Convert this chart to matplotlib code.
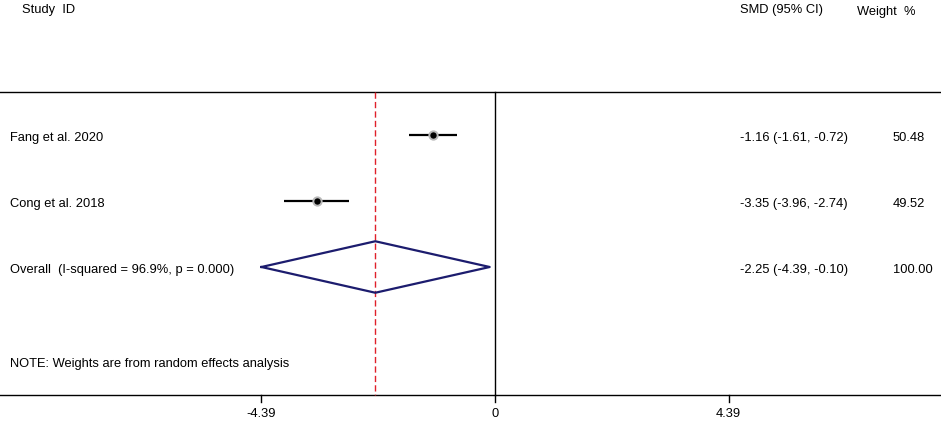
import matplotlib
matplotlib.use("Agg")
import matplotlib.pyplot as plt
import numpy as np

studies = ["Fang et al. 2020", "Cong et al. 2018"]
smd = [-1.16, -3.35]
ci_low = [-1.61, -3.96]
ci_high = [-0.72, -2.74]
weights = [50.48, 49.52]

overall_label = "Overall  (I-squared = 96.9%, p = 0.000)"
overall_smd = -2.25
overall_low = -4.39
overall_high = -0.10
overall_weight = 100.00

xticks = [-4.39, 0, 4.39]
xtick_labels = ["-4.39", "0", "4.39"]

plt.rcParams["font.family"] = ["Liberation Sans", "DejaVu Sans"]
fs = 9.3

fig = plt.figure(figsize=(9.41, 4.23), dpi=100)
ax = fig.add_axes([0, 0, 1, 1])
ax.axis("off")

# pixel-to-data scale: 0 at x=495px, 53.2 px per unit
px_per_unit = 53.2
x0 = 495
ax.set_xlim((0 - x0) / px_per_unit, (941 - x0) / px_per_unit)
# rows: one row = 66 px, row 1 at y=135px
ax.set_ylim((423 - 69) / 66, -69 / 66)

xmin, xmax = ax.get_xlim()
top_y = 0.35
axis_y = 4.94
dy = 0.04  # text sits slightly below the marks

# header
ax.text(xmin + 22 / px_per_unit, -0.89, "Study  ID", fontsize=fs, va="center", ha="left")
ax.text(xmin + 740 / px_per_unit, -0.89, "SMD (95% CI)", fontsize=fs, va="center", ha="left")
ax.text(xmin + 857 / px_per_unit, -0.87, "Weight  %", fontsize=fs, va="center", ha="left")

# frame lines
ax.plot([xmin, xmax], [top_y, top_y], color="black", lw=1)
ax.plot([xmin, xmax], [axis_y, axis_y], color="black", lw=1)
ax.plot([0, 0], [top_y, axis_y], color="black", lw=1)
ax.plot([overall_smd, overall_smd], [top_y, axis_y], color="#e0202a", lw=1,
        linestyle=(0, (4.5, 2.3)))

# ticks
for t, lab in zip(xticks, xtick_labels):
    ax.plot([t, t], [axis_y, axis_y + 0.1], color="black", lw=1)
    ax.text(t, axis_y + 0.29, lab, fontsize=fs, ha="center", va="center")

label_x = xmin + 10 / px_per_unit
val_x = xmin + 740 / px_per_unit
w_x = xmin + 893 / px_per_unit

for i, (name, m, lo, hi, w) in enumerate(zip(studies, smd, ci_low, ci_high, weights)):
    y = i + 1
    ax.plot([lo, hi], [y, y], color="black", lw=1.6, solid_capstyle="butt")
    ax.plot(m, y, "o", color="black", ms=6, mec="#b8b8b8", mew=1.4)
    ax.text(label_x, y + dy, name, fontsize=fs, va="center", ha="left")
    ax.text(val_x, y + dy, f"{m:.2f} ({lo:.2f}, {hi:.2f})", fontsize=fs, va="center", ha="left")
    ax.text(w_x, y + dy, f"{w:.2f}", fontsize=fs, va="center", ha="left")

# overall diamond
yo = len(studies) + 1
half_h = 0.39
ax.plot([overall_low, overall_smd, overall_high, overall_smd, overall_low],
        [yo, yo - half_h, yo, yo + half_h, yo], color="#1c1c6e", lw=1.6)
ax.text(label_x, yo + dy, overall_label, fontsize=fs, va="center", ha="left")
ax.text(val_x, yo + dy, f"{overall_smd:.2f} ({overall_low:.2f}, {overall_high:.2f})",
        fontsize=fs, va="center", ha="left")
ax.text(w_x, yo + dy, f"{overall_weight:.2f}", fontsize=fs, va="center", ha="left")

ax.text(label_x, 4.47, "NOTE: Weights are from random effects analysis", fontsize=fs,
        va="center", ha="left")

fig.savefig("out.png", dpi=100)
